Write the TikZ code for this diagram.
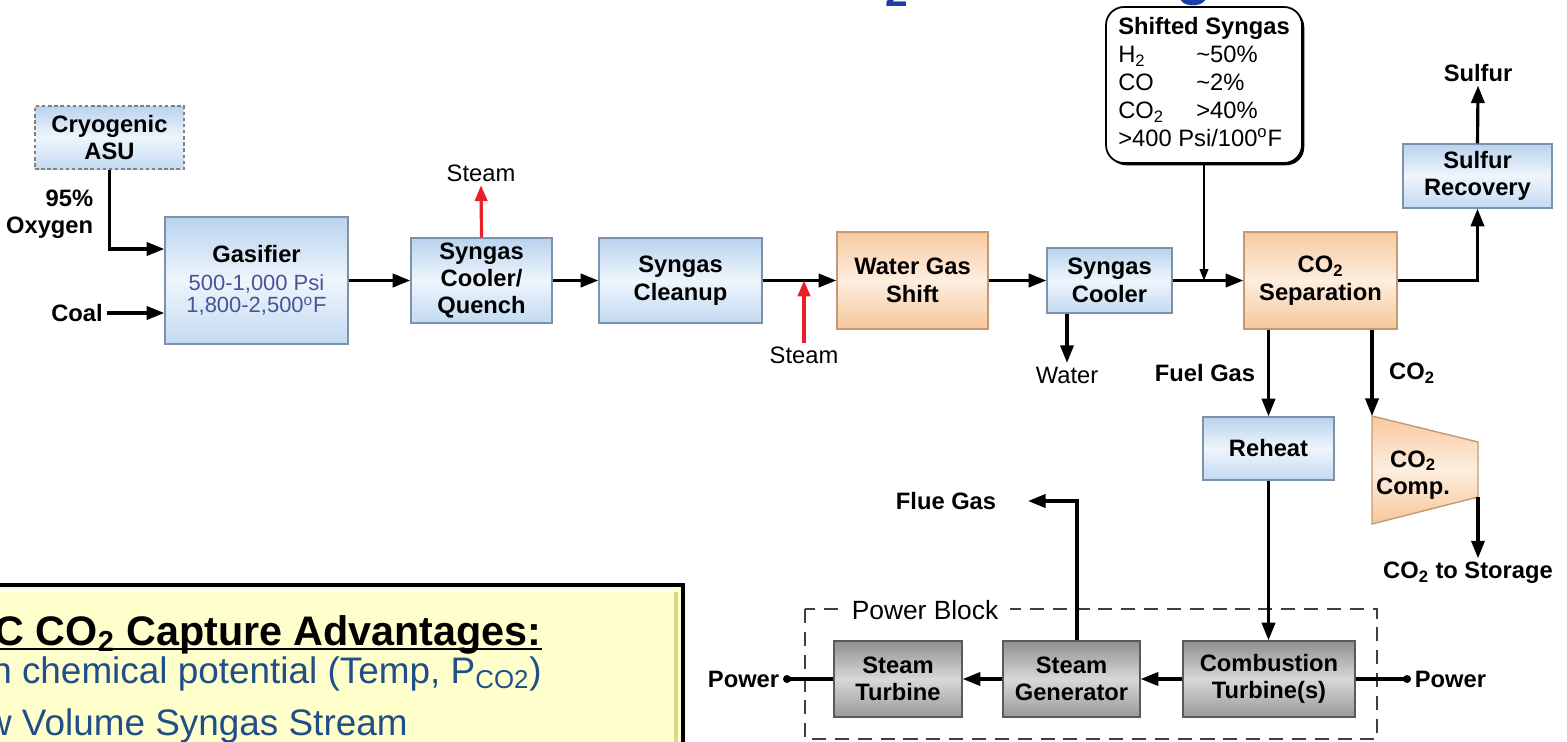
\documentclass[tikz,border=0pt]{standalone}
\usepackage{fontspec}
\setmainfont{Liberation Sans}
\usetikzlibrary{arrows.meta,positioning,shadows}

\definecolor{blutop}{HTML}{B9D3EE}
\definecolor{blumid}{HTML}{EEF5FC}
\definecolor{blubot}{HTML}{C3DAF2}
\definecolor{bluedge}{HTML}{7D92AA}
\definecolor{oratop}{HTML}{F8C9A0}
\definecolor{oramid}{HTML}{FDEEDF}
\definecolor{orabot}{HTML}{F7C69A}
\definecolor{oraedge}{HTML}{C49A74}
\definecolor{grytop}{HTML}{8F8F8F}
\definecolor{grymid}{HTML}{D8D8D8}
\definecolor{grybot}{HTML}{999999}
\definecolor{gryedge}{HTML}{5A5A5A}
\definecolor{steamred}{HTML}{E8202A}
\definecolor{psiblue}{HTML}{4A5396}
\definecolor{itmblue}{HTML}{1F4E89}
\definecolor{ttlblue}{HTML}{1B3FA6}
\definecolor{notefill}{HTML}{FFFFCC}
\definecolor{notebevel}{HTML}{D8D890}

\begin{document}
\begin{tikzpicture}[x=0.2mm,y=-0.2mm,
  box/.style={draw, line width=0.8pt, inner sep=1pt, align=center,
    font=\fontsize{13.5}{15.6}\selectfont\bfseries},
  blubox/.style={box, draw=bluedge, top color=blutop, bottom color=blubot, middle color=blumid},
  orabox/.style={box, draw=oraedge, top color=oratop, bottom color=orabot, middle color=oramid},
  grybox/.style={box, draw=gryedge, top color=grytop, bottom color=grybot, middle color=grymid},
  flow/.style={line width=1.8pt, -{Triangle[length=10pt,width=7.5pt]}},
  hotflow/.style={line width=1.8pt, draw=steamred, -{Triangle[length=9pt,width=7pt]}},
  lbl/.style={inner sep=2pt, align=center, font=\fontsize{13.5}{15.6}\selectfont},
  lblb/.style={lbl, font=\fontsize{13.5}{15.6}\selectfont\bfseries},
]
  \useasboundingbox (0,0) rectangle (1567,741);
  \clip (0,0) rectangle (1567,741);

  % title, cut off at the top
  \node[anchor=base west, inner sep=0, text=ttlblue,
    font=\fontsize{33}{36}\selectfont\bfseries] (ttl) at (798,-7) {CO\textsubscript{2} Scrubbing};

  % gasification train
  \node[blubox, dashed, dash pattern=on 2pt off 1.5pt, draw=gray, minimum width=29.8mm, minimum height=12.6mm] (asu) at (109.5,137.5) {Cryogenic\\ASU};
  \node[blubox, minimum width=36.6mm, minimum height=25.4mm] (gas) at (256.5,280.5)
    {Gasifier\\[0.3pt]\textcolor{psiblue}{\mdseries\fontsize{12.5}{12.5}\selectfont 500-1,000 Psi}\\[-3.1pt]\textcolor{psiblue}{\mdseries\fontsize{12.5}{12.5}\selectfont 1,800-2,500\textsuperscript{o}F}};
  \node[blubox, minimum width=28.2mm, minimum height=17mm] (quench) at (481.5,280.5) {Syngas\\Cooler/\\Quench};
  \node[blubox, minimum width=32.6mm, minimum height=17mm] (cleanup) at (680.5,280.5) {Syngas\\Cleanup};
  \node[orabox, minimum width=30.2mm, minimum height=19.4mm] (wgs) at (912.5,280.5) {Water Gas\\Shift};
  \node[blubox, minimum width=25mm, minimum height=13mm] (cooler) at (1109.5,280.5) {Syngas\\Cooler};
  \node[orabox, minimum width=30.6mm, minimum height=19.4mm] (sep) at (1320.5,280.5) {CO\textsubscript{2}\\Separation};
  \node[blubox, minimum width=29.8mm, minimum height=12.8mm] (sulrec) at (1477.5,176) {Sulfur\\Recovery};
  \node[blubox, minimum width=26.2mm, minimum height=12.6mm] (reheat) at (1268.5,448.5) {Reheat};

  \node[draw, line width=1pt, fill=white, rounded corners=3.6mm,
    drop shadow={shadow xshift=0.45mm, shadow yshift=-0.45mm, opacity=1, fill=black},
    minimum width=39.2mm, minimum height=31.2mm, inner xsep=2.4mm,
    font=\fontsize{13.5}{16}\selectfont] (shift) at (1204,85)
    {\begin{tabular}{@{}p{15.6mm}@{}l@{}}
      \multicolumn{2}{@{}l@{}}{\bfseries Shifted Syngas}\\
      H\textsubscript{2} & \textasciitilde50\%\\
      CO & \textasciitilde2\%\\
      CO\textsubscript{2} & >40\%\\
      \multicolumn{2}{@{}l@{}}{>400 Psi/100\textsuperscript{o}F}
    \end{tabular}};

  % CO2 compressor
  \coordinate (cmpa) at (1372,416);
  \coordinate (cmpb) at (1478,442);
  \coordinate (cmpc) at (1478,497);
  \coordinate (cmpd) at (1372,524);
  \shadedraw[top color=oratop, bottom color=orabot, middle color=oramid, draw=oraedge, line width=0.8pt]
    (cmpa) -- (cmpb) -- (cmpc) -- (cmpd) -- cycle;
  \node[lblb, inner sep=0] (comp) at (1413,475) {CO\textsubscript{2}\\Comp.};

  % stream labels
  \node[lblb, align=right, anchor=east] (oxy) at (97,214) {95\%\\Oxygen};
  \node[lblb] (coal) at (77,313) {Coal};
  \node[lbl] (stm1) at (481,173) {Steam};
  \node[lbl] (stm2) at (804,355) {Steam};
  \node[lbl] (wat) at (1067,375) {Water};
  \node[lblb] (fuel) at (1205,373) {Fuel Gas};
  \node[lblb] (co2) at (1412,373) {CO\textsubscript{2}};
  \node[lblb] (sulf) at (1478,73) {Sulfur};
  \node[lblb] (stor) at (1468,573) {CO\textsubscript{2} to Storage};
  \node[lblb] (flue) at (946,501) {Flue Gas};

  % power block
  \draw[dashed, dash pattern=on 8pt off 5pt, line width=1.1pt, draw=black!75] (805,609) rectangle (1377,739);
  \node[lbl, fill=white, inner xsep=2.4mm, font=\fontsize{15}{17}\selectfont] (pblk) at (925,610) {Power Block};
  \node[grybox, minimum width=25.6mm, minimum height=15.2mm] (st) at (898,679) {Steam\\Turbine};
  \node[grybox, minimum width=27.4mm, minimum height=15.2mm] (sg) at (1071.5,679) {Steam\\Generator};
  \node[grybox, minimum width=34.4mm, minimum height=15.2mm] (ct) at (1269,679) {Combustion\\Turbine(s)};
  \coordinate (dotl) at (787,679);
  \coordinate (dotr) at (1407,679);
  \node[lblb, left=0.8mm of dotl] (pwl) {Power};
  \node[lblb, right=0.8mm of dotr] (pwr) {Power};

  % connectors
  \draw[flow] (asu.south) |- ([yshift=6.3mm]gas.west);
  \draw[flow] (coal.east) -- (coal.east -| gas.west);
  \draw[flow] (gas.east) -- (quench.west);
  \draw[flow] (quench.east) -- (cleanup.west);
  \draw[flow] (cleanup.east) -- (wgs.west);
  \draw[flow] (wgs.east) -- (cooler.west);
  \draw[flow] (cooler.east) -- (sep.west);
  \draw[hotflow] (quench.north) -- (stm1.south);
  \draw[hotflow] (stm2.north) -- (stm2.north |- cleanup.east);
  \draw[flow] (wat.north |- cooler.south) -- (wat.north);
  \draw[line width=0.6pt, -{Triangle[length=6.5pt,width=5pt]}] (shift.south) -- (shift.south |- sep.west);
  \draw[flow] (sep.east) -| (sulrec.south);
  \draw[flow] (sulrec.north) -- (sulf.south);
  \draw[flow] (reheat.north |- sep.south) -- (reheat.north);
  \draw[flow] (cmpa |- sep.south) -- (cmpa);
  \draw[flow] (cmpc) -- (cmpc |- stor.north);
  \draw[flow] (reheat.south) -- (reheat.south |- ct.north);
  \draw[flow] (ct.west) -- (sg.east);
  \draw[flow] (sg.west) -- (st.east);
  \draw[flow, shorten >=5.6mm] ([xshift=1.1mm]sg.north) |- (flue.east);
  \draw[line width=1.8pt] (st.west) -- (dotl);
  \draw[line width=1.8pt] (ct.east) -- (dotr);
  \fill (dotl) circle (0.8mm);
  \fill (dotr) circle (0.8mm);

  % advantages box, cut off at the left
  \draw[fill=notefill, line width=2pt] (-20,585) rectangle (683,770);
  \draw[notebevel, line width=2.2pt] (676,592) -- (676,770);
  \draw[white, line width=1.5pt] (-20,591) -- (674,591);
  \node[anchor=base east, inner sep=0, font=\fontsize{23.5}{26}\selectfont\bfseries] (advt) at (542,645)
    {IGCC CO\textsubscript{2} Capture Advantages:};
  \draw[line width=1.6pt] ([yshift=-0.8mm]advt.base west) -- ([yshift=-0.8mm]advt.base east);
  \node[anchor=base east, inner sep=0, text=itmblue, font=\fontsize{21}{24}\selectfont] (adv1) at (542,683)
    {High chemical potential (Temp, P\textsubscript{CO2})};
  \node[anchor=base east, inner sep=0, text=itmblue, font=\fontsize{21}{24}\selectfont] (adv2) at (408,735)
    {Low Volume Syngas Stream};
\end{tikzpicture}
\end{document}
